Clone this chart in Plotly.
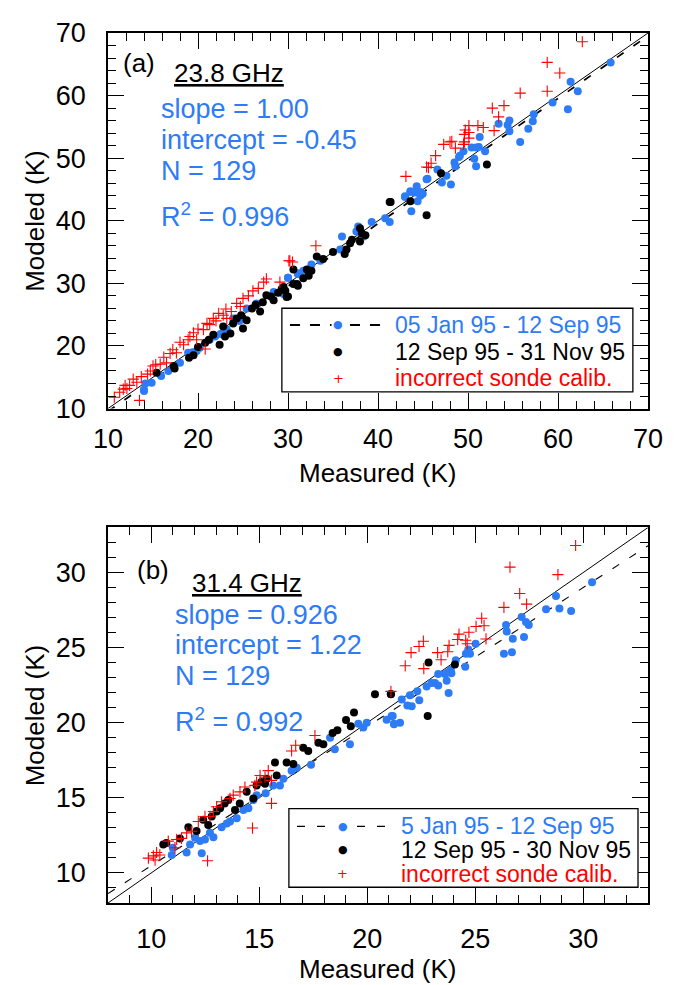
import plotly.graph_objects as go
from plotly.subplots import make_subplots

# ---------------- Panel (a): 23.8 GHz ----------------
a_blue_x = [65.85, 61.4, 62.2, 61.1, 59.4, 57.3, 57.2, 56.7, 55.8, 54.6, 54.4, 53.4, 54.6, 51.3, 51.9, 50.9,
            51.2, 50.4, 49.5, 49.1, 49.0, 50.7, 50.9, 48.5, 48.6, 46.6, 47.6, 47.1, 48.1, 45.5, 44.3, 43.6,
            44.1, 44.97, 44.7, 43.0, 44.4, 43.7, 45.4, 43.6, 43.0, 44.7, 41.3, 40.8, 39.3, 37.8, 37.6, 38.4,
            36.0, 35.8, 33.6, 32.6, 31.7, 31.1, 30.0, 29.5, 31.1, 30.0, 28.4, 26.5, 25.4, 23.9, 23.2, 21.9,
            21.3, 20.2, 19.85, 18.9, 18.0, 16.7, 15.9, 14.85, 14.15, 14.0, 14.0, 22.5, 24.6, 17.2, 19.4]
a_blue_y = [65.3, 62.2, 60.7, 57.8, 58.9, 57.0, 55.9, 54.7, 52.6, 56.0, 55.3, 55.5, 54.3, 53.4, 51.1, 51.7,
            51.8, 51.7, 51.1, 50.4, 50.2, 49.9, 48.7, 49.3, 48.7, 48.2, 47.2, 46.1, 45.8, 46.7, 45.5, 44.7,
            44.5, 44.3, 44.0, 43.9, 43.1, 41.5, 46.65, 44.6, 43.8, 44.6, 39.8, 40.4, 39.8, 39.1, 38.3, 37.5,
            37.5, 35.4, 33.6, 33.0, 32.0, 31.5, 30.9, 28.3, 31.6, 30.9, 28.6, 26.8, 26.0, 24.4, 22.6, 21.5,
            21.0, 19.7, 19.2, 18.9, 17.3, 16.0, 15.2, 14.1, 14.0, 13.0, 12.8, 21.9, 24.0, 16.6, 19.0]
a_black_x = [47.0, 52.1, 41.4, 43.6, 41.3, 45.4, 38.0, 38.2, 38.6, 38.0, 37.1, 36.9, 36.5, 36.3, 35.0, 33.9,
             33.2, 32.6, 32.1, 32.3, 31.7, 30.6, 30.6, 31.1, 29.5, 29.7, 29.85, 31.0, 30.0, 29.3, 28.4, 27.6,
             26.9, 26.0, 25.4, 25.0, 24.3, 23.6, 23.0, 22.4, 22.8, 21.7, 20.8, 20.0, 19.5, 19.0, 17.4, 17.3,
             15.4, 28.9, 28.1, 27.2, 26.4, 24.8, 23.9, 21.2]
a_black_y = [47.6, 49.0, 43.0, 43.1, 43.0, 40.9, 38.8, 38.0, 37.7, 36.7, 36.95, 36.4, 35.4, 34.7, 35.0, 33.9,
             34.3, 32.0, 32.2, 31.2, 30.8, 32.2, 29.9, 29.6, 29.4, 28.8, 27.8, 29.9, 27.9, 29.1, 27.3, 28.1,
             25.5, 26.0, 24.1, 22.8, 24.4, 22.0, 21.5, 20.2, 23.1, 21.8, 20.5, 19.85, 18.5, 18.1, 16.4, 16.8,
             15.7, 28.5, 27.9, 27.0, 26.6, 24.9, 23.6, 21.0]
a_red_x = [62.7, 58.8, 60.2, 55.8, 58.8, 52.7, 54.0, 53.4, 52.9, 50.1, 49.7, 51.1, 51.7, 49.6, 50.1, 50.1,
           49.6, 49.5, 48.2, 48.0, 47.3, 48.6, 46.4, 45.9, 45.6, 43.1, 45.4, 33.1, 30.1, 30.5, 29.1, 30.2,
           27.6, 27.3, 26.1, 25.0, 24.3, 23.7, 23.2, 22.8, 22.3, 21.7, 21.3, 20.8, 20.6, 20.0, 19.85, 19.1,
           18.4, 17.6, 16.9, 16.5, 15.8, 15.0, 14.7, 13.7, 13.5, 12.8, 12.4, 11.9, 11.7, 11.3, 10.7,
           26.7, 25.6, 24.7, 23.1, 22.0, 21.0, 19.5, 18.9, 18.0, 17.2, 16.2, 15.3, 14.4, 13.2, 12.1]
a_red_y = [68.6, 65.3, 63.6, 60.4, 60.7, 58.0, 58.4, 56.6, 54.4, 55.2, 54.5, 55.2, 54.9, 53.8, 54.1, 53.2,
           52.6, 52.2, 52.7, 52.6, 52.2, 51.6, 50.4, 49.2, 48.5, 47.1, 48.6, 36.0, 33.6, 33.4, 30.2, 33.6,
           30.7, 30.2, 28.8, 27.6, 26.8, 25.5, 24.4, 24.9, 25.2, 24.4, 23.4, 19.5, 22.6, 22.7, 21.0, 21.5,
           20.2, 18.9, 18.8, 17.3, 17.1, 16.8, 16.0, 15.1, 11.3, 14.7, 13.7, 13.7, 13.1, 12.6, 11.8,
           29.2, 28.0, 26.3, 25.9, 24.0, 23.6, 22.1, 21.0, 20.6, 19.4, 18.2, 17.0, 15.5, 14.2, 13.2]

# ---------------- Panel (b): 31.4 GHz ----------------
b_blue_x = [30.41, 28.74, 28.9, 29.44, 28.28, 27.15, 27.35, 27.48, 26.43, 26.46, 26.74, 27.26, 26.33, 26.7,
            25.02, 24.68, 24.57, 24.76, 24.54, 24.1, 23.87, 23.75, 23.6, 23.9, 23.29, 23.68, 23.14, 23.29,
            22.98, 22.75, 23.77, 22.32, 21.98, 21.6, 22.41, 21.86, 22.06, 21.13, 20.9, 21.24, 21.52,
            21.18, 21.24, 19.98, 19.82, 19.59, 19.2, 18.28, 18.5,
            16.74, 16.5, 16.12, 15.96, 15.65, 14.88, 14.73, 14.27, 13.96, 13.65, 13.26, 12.72, 12.88, 12.26,
            11.8, 12.34, 11.64, 10.95, 11.0, 12.03, 12.49, 17.4, 15.3, 14.5, 13.5]
b_blue_y = [29.36, 28.44, 27.6, 27.44, 27.55, 27.04, 26.7, 26.5, 26.5, 26.08, 25.6, 25.7, 24.6, 24.7,
            25.26, 24.88, 24.6, 24.6, 23.73, 24.16, 23.53, 23.36, 23.25, 23.3, 23.25, 22.8, 22.64, 22.48,
            22.64, 22.42, 21.98, 22.09, 21.83, 21.55, 21.5, 21.15, 21.1, 20.45, 20.2, 19.9, 20.0,
            20.45, 19.93, 20.0, 19.69, 19.93, 18.56, 19.0, 18.23,
            17.0, 16.8, 16.27, 15.83, 15.83, 15.18, 14.85, 14.19, 13.65, 13.43, 13.04, 12.67, 12.38, 12.12,
            11.9, 11.32, 11.36, 11.19, 11.68, 12.34, 12.23, 17.2, 15.3, 14.3, 13.3]
b_black_x = [22.84, 24.06, 21.09, 22.8, 20.36, 21.1, 19.39, 19.02, 19.24, 18.62, 18.4, 17.74, 17.97, 17.04,
             17.27, 16.58, 16.27, 15.81, 15.73, 15.35, 15.27, 15.1, 14.88, 14.73, 14.42, 14.1, 13.88, 13.57,
             13.4, 13.19, 13.03, 12.8, 12.41, 12.64, 12.1, 11.72, 11.33, 10.7, 10.56]
b_black_y = [24.01, 23.88, 21.92, 20.45, 21.9, 21.9, 20.68, 20.19, 19.76, 19.5, 19.32, 18.67, 18.56, 18.34,
             18.12, 17.25, 17.36, 16.49, 17.36, 16.27, 15.94, 16.05, 15.83, 14.96, 15.4, 14.63, 14.19, 14.85,
             14.63, 14.3, 14.09, 13.76, 13.54, 13.2, 12.8, 13.04, 12.3, 12.0, 11.9]
b_red_x = [29.65, 26.61, 28.83, 27.06, 27.38, 26.33, 25.3, 25.04, 25.41, 24.71, 24.25, 24.19, 24.56, 24.63,
           25.5, 23.79, 23.73, 23.26, 23.42, 22.6, 22.4, 22.03, 22.62, 21.76, 21.1, 17.58, 16.69, 16.5,
           15.57, 15.57, 15.42, 15.27, 15.04, 14.88, 14.8, 14.69, 14.34, 14.11, 13.8, 13.65, 13.26, 13.03,
           12.88, 12.72, 12.61, 12.49, 12.18, 11.87, 11.64, 11.4, 11.18, 11.1, 10.79, 10.4, 10.18, 10.25,
           10.1, 9.87]
b_red_y = [31.8, 30.36, 29.86, 28.6, 27.9, 27.68, 26.96, 26.41, 26.46, 26.02, 25.9, 25.54, 25.49, 25.26,
           25.58, 25.15, 24.73, 24.67, 24.19, 25.43, 25.08, 24.67, 23.6, 23.79, 22.09, 19.15, 18.5, 18.12,
           16.16, 14.63, 16.81, 16.38, 16.49, 16.05, 15.83, 12.99, 15.72, 15.4, 15.18, 14.96, 14.74, 14.41,
           14.09, 13.76, 10.81, 13.76, 13.43, 12.78, 12.67, 12.3, 12.23, 11.68, 12.12, 11.2, 10.86, 11.36,
           11.14, 10.99]

# fit statistics
a_fit = {"slope": 1.00, "intercept": -0.45}
b_fit = {"slope": 0.926, "intercept": 1.22}
a_stats = ["slope = 1.00", "intercept = -0.45", "N = 129", "R<sup>2</sup> = 0.996"]
b_stats = ["slope = 0.926", "intercept = 1.22", "N = 129", "R<sup>2</sup> = 0.992"]
a_legend = ["05 Jan 95 - 12 Sep 95", "12 Sep 95 - 31 Nov 95", "incorrect sonde calib."]
b_legend = ["5 Jan 95 - 12 Sep 95", "12 Sep 95 - 30 Nov 95", "incorrect sonde calib."]
a_range = [10, 70]
b_range = [8, 33]

BLUE = "#2D7CF6"
RED = "#FF0000"
FONT = "Liberation Sans, Arial, sans-serif"

# page body has an 8px margin: figure is sized so that it ends at the window edge
W, H = 669, 977
ML, MR, MT, MB = 100, 29, 10, 82
plot_h = H - MT - MB
panel_h = 382
frac = panel_h / plot_h

fig = make_subplots(rows=2, cols=1)
fig.update_layout(
    xaxis=dict(domain=[0, 1], anchor="y"),
    yaxis=dict(domain=[1 - frac, 1], anchor="x"),
    xaxis2=dict(domain=[0, 1], anchor="y2"),
    yaxis2=dict(domain=[0, frac], anchor="x2"),
)


def add_panel(row, bx, by, kx, ky, rx, ry, fit, rng, dashw):
    xr = [rng[0], rng[1]]
    fig.add_trace(go.Scatter(x=xr, y=xr, mode="lines", line=dict(color="black", width=1),
                             showlegend=False, hoverinfo="skip"), row=row, col=1)
    fy = [fit["slope"] * v + fit["intercept"] for v in xr]
    fig.add_trace(go.Scatter(x=xr, y=fy, mode="lines",
                             line=dict(color="black", width=dashw, dash="8px,12px"),
                             showlegend=False, hoverinfo="skip"), row=row, col=1)
    fig.add_trace(go.Scatter(x=bx, y=by, mode="markers",
                             marker=dict(color=BLUE, size=8, line=dict(width=0)),
                             showlegend=False), row=row, col=1)
    fig.add_trace(go.Scatter(x=kx, y=ky, mode="markers",
                             marker=dict(color="black", size=8, line=dict(width=0)),
                             showlegend=False), row=row, col=1)
    fig.add_trace(go.Scatter(x=rx, y=ry, mode="markers",
                             marker=dict(symbol="cross-thin", color=RED, size=8,
                                         line=dict(color=RED, width=1.1)),
                             showlegend=False), row=row, col=1)


add_panel(1, a_blue_x, a_blue_y, a_black_x, a_black_y, a_red_x, a_red_y, a_fit, a_range, 1.8)
add_panel(2, b_blue_x, b_blue_y, b_black_x, b_black_y, b_red_x, b_red_y, b_fit, b_range, 1.1)

axis_common = dict(
    showline=True, linecolor="black", linewidth=1.5, mirror="allticks",
    ticks="inside", ticklen=16, tickwidth=1.2, tickcolor="black",
    showgrid=False, zeroline=False, ticklabeloverflow="allow",
    tickfont=dict(family=FONT, size=27, color="black"),
)
fig.update_xaxes(**axis_common)
fig.update_yaxes(**axis_common)

fig.update_xaxes(range=a_range, tick0=0, dtick=10,
                 minor=dict(ticks="inside", ticklen=8, tick0=0, dtick=2, tickcolor="black", tickwidth=1.2),
                 ticklabelstandoff=5, row=1, col=1)
fig.update_yaxes(range=a_range, tick0=0, dtick=10,
                 minor=dict(ticks="inside", ticklen=8, tick0=0, dtick=2, tickcolor="black", tickwidth=1.2),
                 ticklabelstandoff=15, row=1, col=1)
fig.update_xaxes(range=b_range, tick0=0, dtick=5,
                 minor=dict(ticks="inside", ticklen=8, tick0=0, dtick=1, tickcolor="black", tickwidth=1.2),
                 ticklabelstandoff=11, row=2, col=1)
fig.update_yaxes(range=b_range, tick0=0, dtick=5,
                 minor=dict(ticks="inside", ticklen=8, tick0=0, dtick=1, tickcolor="black", tickwidth=1.2),
                 ticklabelstandoff=15, row=2, col=1)

ann = []
shapes = []


def txt(xref, yref, x, y, text, color="black", size=27, xanchor="left"):
    ann.append(dict(xref=xref, yref=yref, x=x, y=y, text=text, showarrow=False,
                    xanchor=xanchor, yanchor="middle",
                    font=dict(family=FONT, size=size, color=color)))


def panel_text(xr, yr, tag, tagpos, title, titlepos, stats, statx, staty, xt_y):
    txt(xr, yr, tagpos[0], tagpos[1], tag, size=26)
    txt(xr, yr, titlepos[0], titlepos[1], "<u>" + title + "</u>", size=26)
    for s, yy in zip(stats, staty):
        txt(xr, yr, statx, yy, s, color=BLUE, size=27)
    txt(xr, yr, 0.5, xt_y, "Measured (K)", size=26, xanchor="center")
    ann.append(dict(xref=xr, yref=yr, x=-0.135, y=0.5, text="Modeled (K)", showarrow=False,
                    textangle=-90, xanchor="center", yanchor="middle",
                    font=dict(family=FONT, size=26, color="black")))


panel_text("x domain", "y domain", "(a)", (0.024, 0.919), "23.8 GHz", (0.118, 0.893),
           a_stats, 0.094, [0.798, 0.715, 0.6335, 0.516], -0.172)
panel_text("x2 domain", "y2 domain", "(b)", (0.05, 0.887), "31.4 GHz", (0.152, 0.851),
           b_stats, 0.120, [0.767, 0.686, 0.605, 0.487], -0.176)


def legend_box(xr, yr, box, rows, dash, sym_x, text_x, labels, dashw, dashpat):
    shapes.append(dict(type="rect", xref=xr, yref=yr, x0=box[0], x1=box[1], y0=box[2], y1=box[3],
                       line=dict(color="black", width=1.3), fillcolor="white", layer="above"))
    shapes.append(dict(type="line", xref=xr, yref=yr, x0=dash[0], x1=dash[1], y0=rows[0], y1=rows[0],
                       line=dict(color="black", width=dashw, dash=dashpat), layer="above"))
    cols = [BLUE, "black", RED]
    syms = ["●", "●", "+"]
    sizes = [11, 11, 13]
    for r, c, s, sz, lab in zip(rows, cols, syms, sizes, labels):
        a = dict(xref=xr, yref=yr, x=sym_x, y=r, text=s, showarrow=False, xanchor="center",
                 yanchor="middle", font=dict(family="DejaVu Sans", size=sz, color=c))
        if s != "+":
            a["bgcolor"] = "white"
        ann.append(a)
        txt(xr, yr, text_x, r, lab, color=c, size=23)


legend_box("x domain", "y domain", (0.322, 0.972, 0.0445, 0.267), [0.2225, 0.1518, 0.0812],
           (0.337, 0.509), 0.426, 0.527, a_legend, 2, "10px,10px")
legend_box("x2 domain", "y2 domain", (0.335, 0.9815, 0.0419, 0.2513), [0.2042, 0.1414, 0.0785],
           (0.35, 0.5185), 0.435, 0.538, b_legend, 1.2, "8px,12px")

fig.update_layout(
    width=W, height=H,
    margin=dict(l=ML, r=MR, t=MT, b=MB),
    paper_bgcolor="white", plot_bgcolor="white",
    annotations=ann, shapes=shapes,
    showlegend=False,
    font=dict(family=FONT, color="black"),
)

fig.write_html("out.html")
